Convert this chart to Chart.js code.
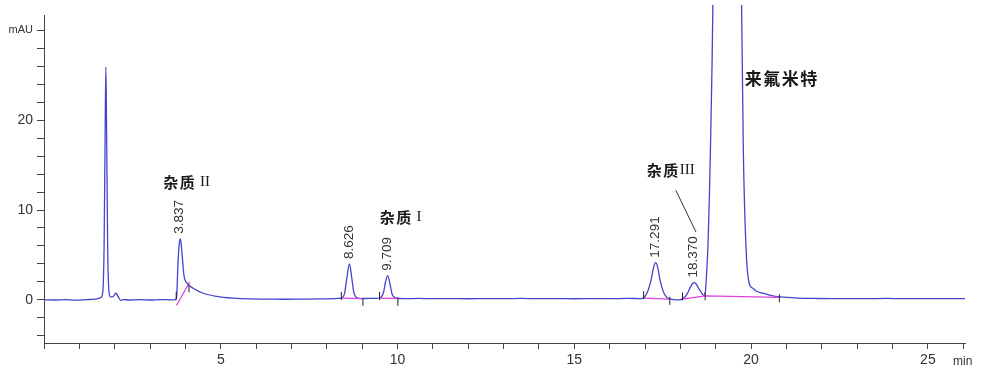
<!DOCTYPE html>
<html>
<head>
<meta charset="utf-8">
<script src="https://cdn.jsdelivr.net/npm/chart.js@4.4.1/dist/chart.umd.min.js"></script>
<style>
    body { margin: 0; background: #fff; }
</style>
</head>
<body>
<canvas id="Cromatograma" width="992" height="379" style="width: 992px; height: 379px;"></canvas>
<script>
var tempos = [
    0, 0.3, 0.6, 0.9, 1.2, 1.45, 1.6, 1.66, 1.70, 1.73, 1.75, 1.77, 1.80, 1.84, 1.88, 1.95, 2.03, 2.10, 2.17, 2.25,
    2.4, 2.7, 3.0, 3.3, 3.6, 3.72, 3.75, 3.79, 3.83, 3.86, 3.89, 3.92, 3.96, 4.05, 4.22, 4.5, 4.88, 5.35, 5.82, 6.3,
    6.8, 7.3, 7.8, 8.2, 8.40, 8.50, 8.56, 8.64, 8.70, 8.76, 8.85, 9.0, 9.2, 9.4, 9.50, 9.60, 9.66, 9.72, 9.78, 9.85,
    9.95, 10.2, 10.6, 11.0, 11.5, 12.0, 12.5, 13.0, 13.5, 14.0, 14.5, 15.0, 15.5, 16.0, 16.5, 16.9, 16.98, 17.08, 17.17, 17.24,
    17.30, 17.36, 17.43, 17.52, 17.60, 17.70, 17.80, 17.97, 18.07, 18.18, 18.28, 18.34, 18.40, 18.46, 18.53, 18.59, 18.65, 18.70, 18.73, 18.78,
    18.82, 18.85, 18.89, 18.92, 18.97, 19.1, 19.35, 19.6, 19.68, 19.73, 19.78, 19.86, 19.95, 20.05, 20.14, 20.3, 20.52, 20.75, 20.99, 21.37,
    21.8, 22.3, 22.8, 23.3, 23.8, 24.3, 24.8, 25.3, 25.8, 26.05
];
var sinal = [
    0.02, 0.0, 0.03, -0.02, 0.04, 0.1, 0.25, 0.8, 6, 19, 25.9, 19, 6, 0.8, 0.35, 0.35, 0.75, 0.35, -0.05, 0.05,
    0.0, 0.03, 0.0, 0.04, 0.02, 0.05, 0.3, 4.1, 6.4, 6.8, 5.8, 4.4, 2.7, 1.85, 1.3, 0.75, 0.4, 0.2, 0.12, 0.1,
    0.08, 0.1, 0.12, 0.15, 0.2, 0.7, 2.3, 4.0, 2.6, 0.9, 0.25, 0.15, 0.18, 0.17, 0.22, 0.8, 2.0, 2.7, 1.9, 0.6,
    0.22, 0.15, 0.17, 0.15, 0.16, 0.14, 0.16, 0.15, 0.17, 0.15, 0.16, 0.14, 0.16, 0.15, 0.17, 0.16, 0.3, 1.0, 2.2, 3.6,
    4.15, 3.6, 2.1, 0.9, 0.35, 0.12, 0.05, 0.02, 0.15, 0.6, 1.4, 1.8, 1.93, 1.7, 1.2, 0.85, 0.55, 0.7, 2.2, 6,
    11.5, 16.7, 25, 33, 60, 120, 160, 120, 60, 33, 16.7, 5.5, 1.8, 1.3, 1.0, 0.78, 0.55, 0.38, 0.3, 0.2,
    0.17, 0.15, 0.16, 0.15, 0.17, 0.15, 0.16, 0.15, 0.16, 0.15
];

// picos identificados
var picosTempo = [3.837, 8.626, 9.709, 17.291, 18.370];
var picosAltura = [6.8, 4.0, 2.7, 4.15, 1.93];

// linha de base da integracao (null separa os trechos)
var baseTempo = [3.75, 4.12, null, 8.41, 9.02, null, 9.49, 10.01, null, 16.96, 17.70, null, 18.06, 18.70, 20.80];
var baseValor = [-0.6, 2.0, null, 0.2, 0.15, null, 0.2, 0.15, null, 0.2, 0.1, null, 0.1, 0.45, 0.3];

// marcas de inicio/fim de pico
var marcaTempo = [3.74, 4.10, 8.41, 9.02, 9.49, 10.01, 16.96, 17.70, 18.06, 18.70, 20.80];
var marcaValor = [0.5, 1.3, 0.45, -0.2, 0.45, -0.2, 0.55, -0.1, 0.4, 0.4, 0.2];

// nomes dos compostos
var nomes = ['杂质 II', '杂质 I', '杂质III', '来氟米特'];

var yTicks = { 30: 'mAU', 20: '20', 10: '10', 0: '0' };

function pares(xs, ys) {
    var out = [];
    for (var i = 0; i < xs.length; i++) {
        out.push({ x: xs[i] === null ? NaN : xs[i], y: ys[i] });
    }
    return out;
}

var textos = {
    id: 'textos',
    afterDatasetsDraw: function (chart) {
        var ctx = chart.ctx;
        var sx = chart.scales.x, sy = chart.scales.y;
        ctx.save();
        ctx.fillStyle = '#333';

        // tempos de retencao na vertical
        ctx.font = '13.5px "Liberation Sans", Arial, sans-serif';
        ctx.textAlign = 'left';
        ctx.textBaseline = 'middle';
        for (var i = 0; i < picosTempo.length; i++) {
            ctx.save();
            ctx.translate(sx.getPixelForValue(picosTempo[i]), sy.getPixelForValue(picosAltura[i]) - 5);
            ctx.rotate(-Math.PI / 2);
            ctx.fillText(picosTempo[i].toFixed(3), 0, 0);
            ctx.restore();
        }

        // nomes (posicao em min / mAU)
        var lugares = [[3.37, 13.1, 15], [9.50, 9.17, 15], [17.05, 14.4, 15], [19.82, 24.6, 17]];
        ctx.fillStyle = '#1a1a1a';
        for (var j = 0; j < nomes.length; j++) {
            var px = sx.getPixelForValue(lugares[j][0]);
            var py = sy.getPixelForValue(lugares[j][1]);
            var tam = lugares[j][2];
            var chars = nomes[j].split('');
            for (var k = 0; k < chars.length; k++) {
                var c = chars[k];
                if (/[\u4e00-\u9fff]/.test(c)) {
                    ctx.font = 'bold ' + tam + 'px "Noto Sans CJK SC"';
                    ctx.fillText(c, px, py);
                    px += ctx.measureText(c).width + 1.5;
                } else {
                    ctx.font = tam + 'px "Liberation Serif", serif';
                    ctx.fillText(c, px, py);
                    px += ctx.measureText(c).width;
                }
            }
        }

        // seta do 杂质III ate o pico 18.370
        ctx.strokeStyle = '#333';
        ctx.lineWidth = 1;
        ctx.beginPath();
        ctx.moveTo(sx.getPixelForValue(17.87), sy.getPixelForValue(12.2));
        ctx.lineTo(sx.getPixelForValue(18.44), sy.getPixelForValue(7.56));
        ctx.stroke();

        // unidade do eixo x
        ctx.fillStyle = '#333';
        ctx.font = '12px "Liberation Sans", Arial, sans-serif';
        ctx.textBaseline = 'middle';
        ctx.fillText('min', 953, 362);
        ctx.restore();
    }
};

var ctx = document.getElementById('Cromatograma').getContext('2d');

var grafico = new Chart(ctx, {
    type: 'line',
    data: {
        datasets: [{
            label: 'marcas',
            type: 'scatter',
            data: pares(marcaTempo, marcaValor),
            pointStyle: 'line',
            rotation: 90,
            pointRadius: 4,
            pointBorderColor: '#222',
            pointBorderWidth: 1,
            order: 1
        }, {
            label: 'linha de base',
            data: pares(baseTempo, baseValor),
            borderColor: '#e040e0',
            borderWidth: 1.2,
            pointRadius: 0,
            spanGaps: false,
            tension: 0,
            order: 2
        }, {
            label: 'sinal',
            data: pares(tempos, sinal),
            borderColor: '#4444cc',
            borderWidth: 1.3,
            pointRadius: 0,
            cubicInterpolationMode: 'monotone',
            clip: { left: 0, top: 10, right: 0, bottom: 0 },
            order: 3
        }]
    },
    options: {
        responsive: false,
        animation: false,
        layout: { padding: { top: 15, right: 27, bottom: 0, left: 0 } },
        plugins: {
            legend: { display: false },
            tooltip: { enabled: false }
        },
        scales: {
            x: {
                type: 'linear',
                min: 0,
                max: 26.05,
                afterFit: function (s) { s.height = 36; },
                border: { color: '#444', width: 1 },
                grid: { drawOnChartArea: false, drawTicks: true, tickLength: 6, tickColor: '#444' },
                ticks: {
                    stepSize: 1,
                    includeBounds: false,
                    autoSkip: false,
                    maxRotation: 0,
                    padding: 3,
                    color: '#333',
                    font: { family: '"Liberation Sans", Arial, sans-serif', size: 14 },
                    callback: function (v) { return (v % 5 === 0 && v !== 0) ? String(v) : ''; }
                }
            },
            y: {
                min: -4.78,
                max: 31.67,
                afterFit: function (s) { s.width = 44; },
                border: { color: '#444', width: 1 },
                grid: { drawOnChartArea: false, drawTicks: true, tickLength: 7, tickColor: '#444' },
                ticks: {
                    stepSize: 2,
                    includeBounds: false,
                    autoSkip: false,
                    padding: 4,
                    color: '#333',
                    font: function (c) {
                        var v = c.tick ? c.tick.value : 0;
                        return { family: '"Liberation Sans", Arial, sans-serif', size: v === 30 ? 11 : 14 };
                    },
                    callback: function (v) { return yTicks[v] !== undefined ? yTicks[v] : ''; }
                }
            }
        }
    },
    plugins: [textos]
});
</script>
</body>
</html>
